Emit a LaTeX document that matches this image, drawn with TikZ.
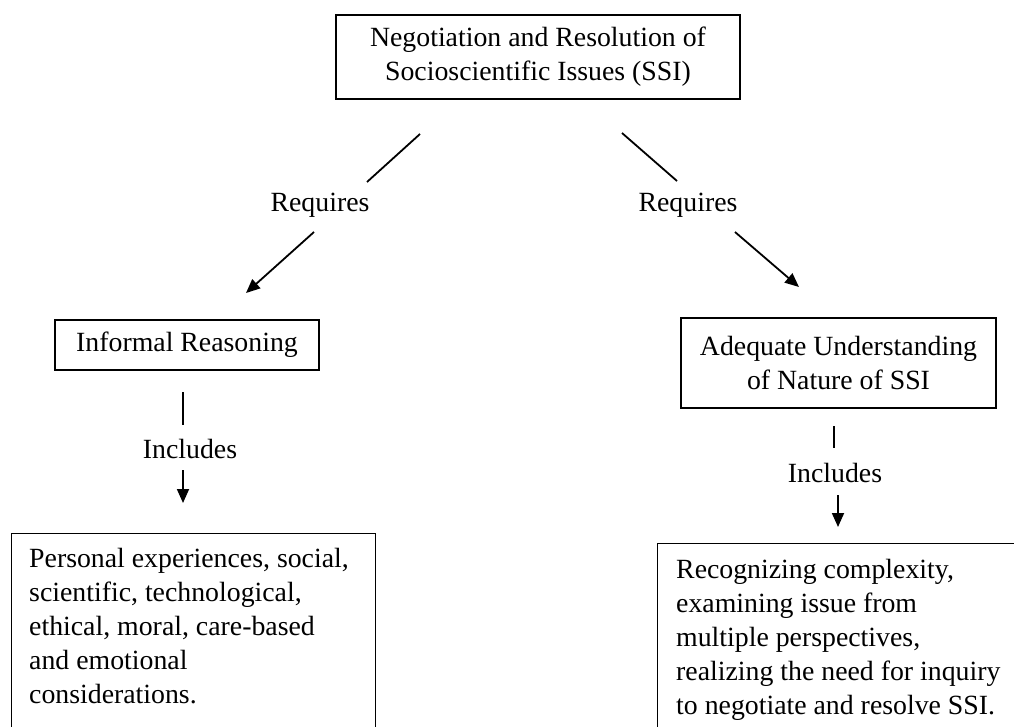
\documentclass[tikz,border=0pt]{standalone}
\usepackage{fontspec}
\setmainfont{Liberation Serif}
\usepackage{tikz}
\usetikzlibrary{arrows.meta}

\tikzset{
 box/.style={draw, line width=1.3pt, inner sep=0pt, align=center},
 seg/.style={line width=1.8pt},
 arr/.style={line width=1.8pt, -{Triangle[length=14pt,width=12pt]}}
}

\begin{document}
\begin{tikzpicture}[x=1pt, y=-1pt, font=\fontsize{27.8pt}{34pt}\selectfont]
 \useasboundingbox (0,0) rectangle (1014,726);
 \clip (0,0) rectangle (1014,726);

 % boxes
 \node [box, minimum width=404pt, minimum height=84pt] (ssi) at (538,57) {Negotiation and Resolution of\\Socioscientific Issues (SSI)};
 \node [box, minimum width=264pt, minimum height=50pt] (ir) at (187,345) {Informal Reasoning};
 \node [box, minimum width=315pt, minimum height=90pt] (aus) at (838.5,363) {Adequate Understanding\\of Nature of SSI};
 \node [box, anchor=north west, minimum width=364pt, minimum height=240pt] (irbox) at (11,533) {};
 \node [anchor=north west, inner sep=0pt, align=left] (irtxt) at (29,548) {Personal experiences, social,\\scientific, technological,\\ethical, moral, care-based\\and emotional\\considerations.};
 \node [box, anchor=north west, minimum width=380pt, minimum height=240pt] (ausbox) at (657,543) {};
 \node [anchor=north west, inner sep=0pt, align=left] (austxt) at (676,559) {Recognizing complexity,\\examining issue from\\multiple perspectives,\\realizing the need for inquiry\\to negotiate and resolve SSI.};

 % labels
 \node (reql) at (320,205) {Requires};
 \node (reqr) at (688,205) {Requires};
 \node (incl) at (190,449) {Includes};
 \node (incr) at (835,473) {Includes};

 % connectors
 \coordinate (l1) at (420,134); \coordinate (l2) at (367,182);
 \coordinate (l3) at (314,232); \coordinate (l4) at (246,293);
 \coordinate (r1) at (622,133); \coordinate (r2) at (677,181);
 \coordinate (r3) at (735,232); \coordinate (r4) at (799,287);
 \draw [seg] (l1) -- (l2);
 \draw [arr] (l3) -- (l4);
 \draw [seg] (r1) -- (r2);
 \draw [arr] (r3) -- (r4);

 \coordinate (a1) at (183,392); \coordinate (a2) at (183,425);
 \coordinate (a3) at (183,470); \coordinate (a4) at (183,503);
 \coordinate (b1) at (834,426); \coordinate (b2) at (834,448);
 \coordinate (b3) at (838,495); \coordinate (b4) at (838,527);
 \draw [seg] (a1) -- (a2);
 \draw [arr] (a3) -- (a4);
 \draw [seg] (b1) -- (b2);
 \draw [arr] (b3) -- (b4);
\end{tikzpicture}
\end{document}
